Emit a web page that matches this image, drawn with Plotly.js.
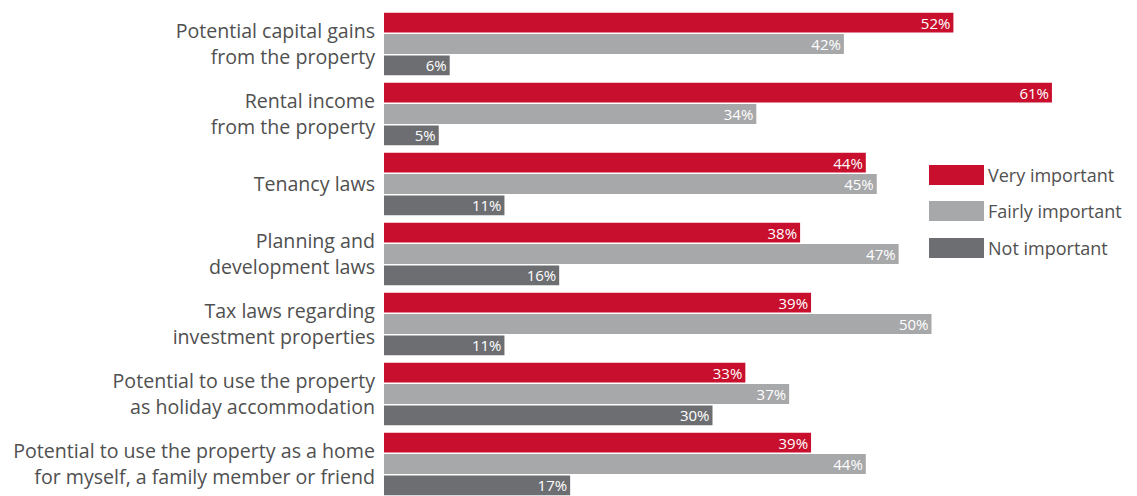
<!DOCTYPE html>
<html>
<head>
<meta charset="utf-8">
<script src="https://cdn.plot.ly/plotly-3.0.1.min.js"></script>
<style>html,body{margin:0;padding:0;background:#fff;}#chart{width:1137px;height:496px;}</style>
</head>
<body>
<div id="chart"></div>
<script>
const categories = [
  "Potential capital gains<br>from the property",
  "Rental income<br>from the property",
  "Tenancy laws",
  "Planning and<br>development laws",
  "Tax laws regarding<br>investment properties",
  "Potential to use the property<br>as holiday accommodation",
  "Potential to use the property as a home<br>for myself, a family member or friend"
];
const seriesNames = ["Very important", "Fairly important", "Not important"];
const veryImportant   = [52, 61, 44, 38, 39, 33, 39];
const fairlyImportant = [42, 34, 45, 47, 50, 37, 44];
const notImportant    = [6, 5, 11, 16, 11, 30, 17];
const colors = ["#c8102e", "#a7a8aa", "#6d6e71"];

const W = 1137, H = 496;
const ML = 384, MR = 0, MT = 9, MB = 0;
const plotW = W - ML - MR, plotH = H - MT - MB;
const pxPerPct = 10.95;
const slot = 70;
const FONT = "'Open Sans', 'Noto Sans', sans-serif";

const values = [veryImportant, fairlyImportant, notImportant];
const traces = values.map((v, i) => ({
  type: "bar",
  orientation: "h",
  name: seriesNames[i],
  y: categories,
  x: v,
  marker: {color: colors[i]},
  text: v.map(d => d + "%"),
  textposition: "inside",
  insidetextanchor: "end",
  constraintext: "none",
  textfont: {family: FONT, size: 15, color: "#ffffff"},
  insidetextfont: {family: FONT, size: 15, color: "#ffffff"},
  hoverinfo: "x+y",
  cliponaxis: false
}));

function px(x) { return (x - ML) / plotW; }
function py(y) { return (H - MB - y) / plotH; }

const shapes = [], annotations = [];
const legendY = [175, 211, 248];
seriesNames.forEach((n, i) => {
  shapes.push({type: "rect", xref: "paper", yref: "paper",
    x0: px(929), x1: px(984), y0: py(legendY[i] - 10), y1: py(legendY[i] + 10),
    fillcolor: colors[i], line: {width: 0}});
  annotations.push({xref: "paper", yref: "paper", x: px(986), y: py(legendY[i]),
    xanchor: "left", yanchor: "middle", showarrow: false, text: n,
    font: {family: FONT, size: 18, color: "#505050"}});
});

const layout = {
  width: W, height: H,
  margin: {l: ML, r: MR, t: MT, b: MB, pad: 0},
  paper_bgcolor: "#ffffff", plot_bgcolor: "#ffffff",
  barmode: "group",
  bargap: 0.085,
  bargroupgap: 0.07,
  showlegend: false,
  xaxis: {range: [0, plotW / pxPerPct], visible: false, fixedrange: true},
  yaxis: {
    type: "category",
    range: [-0.5 + plotH / slot, -0.5],
    showgrid: false, zeroline: false, showline: false,
    ticks: "", ticklabelstandoff: 8,
    tickfont: {family: FONT, size: 19.6, color: "#505050"},
    fixedrange: true
  },
  shapes: shapes,
  annotations: annotations
};

Plotly.newPlot("chart", traces, layout, {displayModeBar: false, staticPlot: true});
</script>
</body>
</html>
